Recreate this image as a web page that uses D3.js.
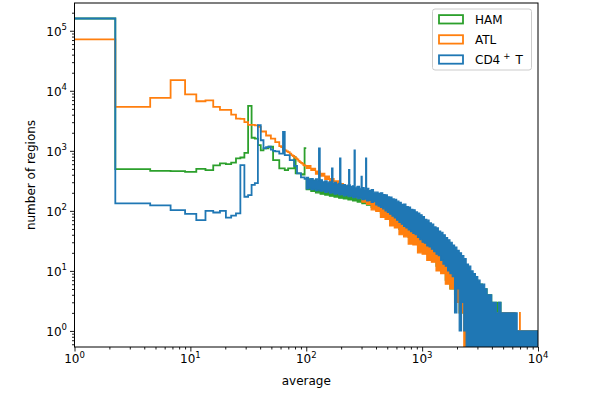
<!DOCTYPE html>
<html>
<head>
<meta charset="utf-8">
<script src="https://cdn.jsdelivr.net/npm/d3@7"></script>
<style>
  body { margin: 0; background: #fff; }
  svg { font-family: "DejaVu Sans", sans-serif; }
</style>
</head>
<body>
<div id="chart"></div>
<script>
// histogram bin width (linear bins), counts per bin up to ~100
const binWidth = 2.25;
const hamBins = [160000, 496, 464, 460, 447, 500, 478, 572, 617, 600, 635, 750, 775, 925, 5600, 1650, 1600, 1240, 1020, 1100,
  1100, 1170, 1170, 700, 700, 700, 510, 510, 510, 478, 478, 510, 510, 510, 510, 785, 420, 420, 420, 420, 400, 410, 400, 1110];
const atlBins = [72000, 5400, 7600, 15000, 8700, 6700, 6900, 5400, 4800, 4800, 4000, 3450, 3400, 3000, 2700, 2700, 2650, 2500, 2100, 2100,
  1800, 1800, 1600, 1600, 1400, 1400, 1200, 1150, 1050, 1020, 980, 950, 900, 850, 820, 780, 750, 720, 680, 650, 630, 610, 580, 570];
const cd4Bins = [160000, 133, 123, 103, 89, 70, 100, 94, 100, 77, 83, 91, 580, 172, 183, 270, 290, 2680, 1500, 1100,
  1150, 1170, 1050, 1000, 980, 980, 900, 900, 2070, 850, 850, 850, 700, 700, 700, 560, 560, 420, 420, 420, 360, 360, 360, 340];

// from 100 to 10^4 the bins are thinner than a pixel: kept as low / high envelope
// over equal log steps (HAM, ATL: 0.04 decade, CD4: 0.02 decade)
const hamLo = [225, 210, 200, 190, 183, 176, 170, 163, 158, 152, 146, 140, 132, 124, 114, 103, 92, 80, 68, 58,
  49, 42, 36, 31, 27, 23, 19, 16, 12, 10, 7, 5, 4, 2, 1, 0, 0, 0, 0, 0, 0, 0, 0, 0, 0, 0, 0, 0, 0, 0];
const hamHi = [340, 320, 305, 292, 282, 272, 262, 252, 246, 236, 228, 220, 212, 204, 194, 184, 172, 160, 148, 136,
  124, 114, 100, 90, 78, 66, 58, 50, 42, 36, 30, 24, 19, 15, 12, 9, 7, 6, 5, 4, 3, 3, 2, 2, 2, 1, 1, 1, 1, 1];
const atlLo = [510, 470, 410, 380, 335, 310, 270, 250, 215, 205, 175, 165, 140, 128, 104, 98, 78, 72, 56, 52,
  40, 37, 28, 27, 20, 19, 15, 14, 10, 9, 6, 5, 3, 2, 0, 0, 0, 0, 0, 0, 0, 0, 0, 0, 0, 0, 0, 0, 0, 0];
const atlHi = [570, 510, 460, 420, 380, 345, 315, 285, 260, 240, 220, 200, 185, 170, 155, 145, 130, 118, 105, 95,
  85, 76, 68, 60, 52, 45, 40, 34, 29, 24, 20, 16, 13, 10, 8, 6, 5, 4, 3, 3, 2, 2, 2, 2, 2, 1, 1, 1, 1, 1];
const cd4Lo = [232, 240, 226, 230, 218, 224, 212, 216, 204, 208, 198, 202, 190, 194, 184, 188, 178, 182, 172, 176,
  166, 170, 160, 163, 154, 157, 146, 150, 138, 142, 126, 120, 114, 108, 100, 94, 88, 82, 76, 70,
  64, 60, 55, 52, 48, 45, 42, 40, 36, 33, 30, 29, 26, 25, 23, 21, 19, 18, 15, 13,
  12, 10, 9, 8, 2, 5, 1, 3, 1, 0, 0, 0, 0, 0, 0, 0, 0, 0, 0, 0,
  0, 0, 0, 0, 0, 0, 0, 0, 0, 0, 0, 0, 0, 0, 0, 0, 0, 0, 0, 0];
const cd4Hi = [360, 335, 345, 325, 340, 318, 330, 305, 315, 300, 305, 285, 298, 280, 288, 270, 275, 262, 272, 255,
  262, 248, 255, 238, 245, 230, 238, 218, 226, 205, 205, 195, 200, 186, 184, 172, 170, 158, 156, 145,
  138, 128, 130, 118, 116, 106, 104, 96, 92, 86, 80, 72, 70, 63, 60, 54, 52, 46, 44, 40,
  36, 33, 30, 27, 25, 22, 20, 18, 16, 13, 12, 10, 9, 8, 7, 6, 6, 5, 4, 4,
  3, 3, 2, 3, 2, 2, 2, 2, 2, 2, 2, 1, 1, 1, 1, 1, 1, 1, 1, 1];
// single bins sticking out of the band
const atlSpikeX = [6980];
const atlSpikeY = [2];
const cd4SpikeX = [128.7, 166.6, 195.4, 233.6, 260.6, 299.5, 327.5];
const cd4SpikeY = [1100, 510, 750, 480, 1020, 370, 750];

const xTicks = [1, 10, 100, 1000, 10000];
const yTicks = [1, 10, 100, 1000, 10000, 100000];

const series = [
  {name: 'HAM', color: '#2ca02c', bins: hamBins, lo: hamLo, hi: hamHi, spX: [], spY: []},
  {name: 'ATL', color: '#ff7f0e', bins: atlBins, lo: atlLo, hi: atlHi, spX: atlSpikeX, spY: atlSpikeY},
  {name: 'CD4', color: '#1f77b4', bins: cd4Bins, lo: cd4Lo, hi: cd4Hi, spX: cd4SpikeX, spY: cd4SpikeY}
];

const W = 598, H = 397;
const plot = {left: 74.5, right: 538, top: 3, bottom: 347};

const svg = d3.select('#chart').append('svg').attr('width', W).attr('height', H);

const x = d3.scaleLog().domain([1, 1e4]).range([plot.left, plot.right]);
const y = d3.scaleLog().domain([0.54, 2.9e5]).range([plot.bottom, plot.top]);
const yv = v => v > 0 ? y(v) : plot.bottom + 5;

svg.append('defs').append('clipPath').attr('id', 'clip')
  .append('rect').attr('x', plot.left).attr('y', plot.top)
  .attr('width', plot.right - plot.left).attr('height', plot.bottom - plot.top);

const g = svg.append('g').attr('clip-path', 'url(#clip)');

const stepLine = d3.line().x(d => x(d.x)).y(d => yv(d.v)).curve(d3.curveStepAfter);
const bandArea = d3.area().x(d => x(d.x)).y0(d => yv(d.lo)).y1(d => yv(d.hi)).curve(d3.curveStepAfter);

series.forEach(s => {
  const n = s.lo.length;
  const bandX = d3.range(n + 1).map(i => Math.pow(10, 2 + i * 2 / n));

  // envelope band
  const band = s.lo.map((lo, i) => ({x: bandX[i], lo: lo, hi: s.hi[i]}));
  band.push({x: bandX[n], lo: s.lo[n - 1], hi: s.hi[n - 1]});
  g.append('path').datum(band).attr('d', bandArea)
    .attr('fill', s.color).attr('stroke', s.color).attr('stroke-width', 1.2);

  // resolved bins
  const pts = s.bins.map((v, i) => ({x: i === 0 ? 1 : i * binWidth, v: v}));
  pts.push({x: bandX[0], v: s.bins[s.bins.length - 1]});
  g.append('path').datum(pts).attr('d', stepLine)
    .attr('fill', 'none').attr('stroke', s.color).attr('stroke-width', 1.8);

  // spikes
  s.spX.forEach((sx, i) => {
    const cell = Math.min(n - 1, Math.max(0, d3.bisectRight(bandX, sx) - 1));
    const base = Math.max(s.hi[cell], 1);
    const p = d3.path();
    p.moveTo(x(sx), y(base));
    p.lineTo(x(sx), y(s.spY[i]));
    p.lineTo(x(sx + binWidth), y(s.spY[i]));
    p.lineTo(x(sx + binWidth), y(base));
    g.append('path').attr('d', p.toString())
      .attr('fill', 'none').attr('stroke', s.color).attr('stroke-width', 1.8);
  });
});

// frame
svg.append('rect').attr('x', plot.left).attr('y', plot.top)
  .attr('width', plot.right - plot.left).attr('height', plot.bottom - plot.top)
  .attr('fill', 'none').attr('stroke', '#000').attr('stroke-width', 1);

// minor tick values 2..9 x 10^e
function minors(lo, hi) {
  const out = [];
  for (let e = -1; e <= 5; e++) {
    for (let m = 2; m <= 9; m++) {
      const v = m * Math.pow(10, e);
      if (v > lo && v < hi) out.push(v);
    }
  }
  return out;
}

const xAxis = svg.append('g').attr('transform', `translate(0,${plot.bottom})`);
xAxis.call(d3.axisBottom(x).tickValues(xTicks).tickFormat('').tickSizeInner(4.5).tickSizeOuter(0));
xAxis.append('g').call(d3.axisBottom(x).tickValues(minors(1, 1e4)).tickFormat('').tickSizeInner(2.5).tickSizeOuter(0));
const yAxis = svg.append('g').attr('transform', `translate(${plot.left},0)`);
yAxis.call(d3.axisLeft(y).tickValues(yTicks).tickFormat('').tickSizeInner(4.5).tickSizeOuter(0));
yAxis.append('g').call(d3.axisLeft(y).tickValues(minors(0.54, 2.9e5)).tickFormat('').tickSizeInner(2.5).tickSizeOuter(0));
svg.selectAll('.domain').remove();
svg.selectAll('.tick line').attr('stroke', '#000').attr('stroke-width', 0.9);

// tick labels 10^n
function powLabel(sel, v) {
  const e = Math.round(Math.log10(v));
  sel.append('tspan').text('10');
  sel.append('tspan').attr('dy', -5.5).attr('font-size', 8.5).text(e);
}
xTicks.forEach(v => {
  const t = svg.append('text').attr('x', x(v)).attr('y', 363)
    .attr('text-anchor', 'middle').attr('font-size', 12).attr('fill', '#000');
  powLabel(t, v);
});
yTicks.forEach(v => {
  const t = svg.append('text').attr('x', 67).attr('y', y(v) + 5)
    .attr('text-anchor', 'end').attr('font-size', 12).attr('fill', '#000');
  powLabel(t, v);
});

svg.append('text').attr('x', (plot.left + plot.right) / 2).attr('y', 385)
  .attr('text-anchor', 'middle').attr('font-size', 12).text('average');
svg.append('text').attr('transform', `translate(35,${(plot.top + plot.bottom) / 2}) rotate(-90)`)
  .attr('text-anchor', 'middle').attr('font-size', 12).text('number of regions');

// legend
const lg = svg.append('g');
lg.append('rect').attr('x', 432.5).attr('y', 9).attr('width', 99).attr('height', 61).attr('rx', 2.5)
  .attr('fill', '#fff').attr('fill-opacity', 0.8).attr('stroke', '#cccccc').attr('stroke-width', 1);
series.forEach((s, i) => {
  const cy = 19.3 + i * 20.1;
  lg.append('rect').attr('x', 439).attr('y', cy - 4.2).attr('width', 24).attr('height', 8.4)
    .attr('fill', 'none').attr('stroke', s.color).attr('stroke-width', 1.8);
  const t = lg.append('text').attr('x', 475).attr('y', cy + 4.4).attr('font-size', 12);
  if (s.name === 'CD4') {
    t.append('tspan').text('CD4');
    t.append('tspan').attr('dx', 3).attr('dy', -5).attr('font-size', 8.5).text('+');
    t.append('tspan').attr('dx', 5).attr('dy', 5).text('T');
  } else {
    t.text(s.name);
  }
});
</script>
</body>
</html>
